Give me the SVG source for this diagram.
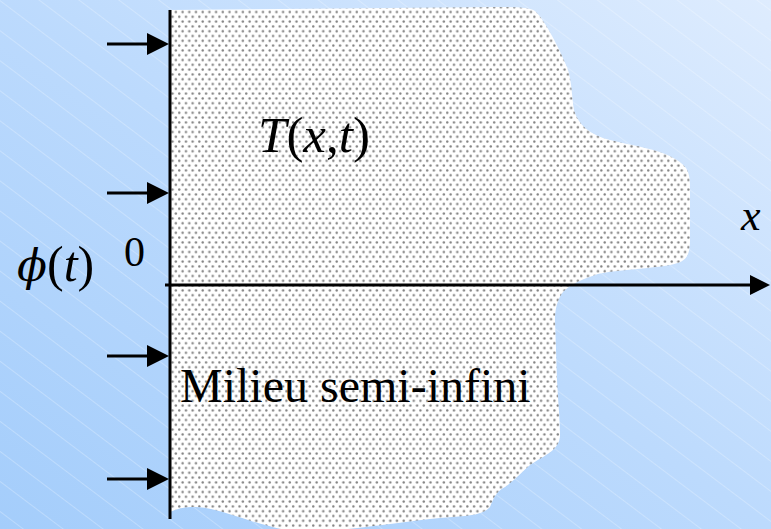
<svg xmlns="http://www.w3.org/2000/svg" xmlns:xlink="http://www.w3.org/1999/xlink" width="771" height="529" viewBox="0 0 771 529">
<style>
.ln{stroke:#000;stroke-width:3;fill:none}
.ah{fill:#000}
.it{font-family:"Liberation Serif","Times New Roman",serif;font-style:italic;fill:#000}
.rm{font-family:"Liberation Serif","Times New Roman",serif;fill:#000}
.ph{font-family:"DejaVu Serif","Liberation Serif",serif;font-style:italic}
</style>
<defs>
<linearGradient id="bg" x1="0" y1="1" x2="1" y2="0">
<stop offset="0" stop-color="#a4cdfb"/>
<stop offset="0.5" stop-color="#bcdafd"/>
<stop offset="1" stop-color="#deecfe"/>
</linearGradient>
<pattern id="hatch" width="60" height="24" patternUnits="userSpaceOnUse" patternTransform="rotate(37)">
<line x1="0" y1="0.5" x2="60" y2="0.5" stroke="#ffffff" stroke-opacity="0.32" stroke-width="0.8"/>
</pattern>
<pattern id="dots" width="6.7" height="9.6" patternUnits="userSpaceOnUse">
<rect width="6.7" height="9.6" fill="#ffffff"/>
<circle cx="1.7" cy="2.4" r="1.2" fill="#808080"/>
<circle cx="5.05" cy="7.2" r="1.2" fill="#808080"/>
</pattern>
<g id="arr">
<line x1="107" y1="0" x2="150" y2="0" class="ln"/>
<polygon points="147,-11 169,0 147,11" class="ah"/>
</g>
</defs>
<rect width="771" height="529" fill="url(#bg)"/>
<rect width="771" height="529" fill="url(#hatch)"/>
<g id="medium">
<path d="M170,10 L500,7 C520,7 530,8 535,11 C545,20 560,50 567,67 C572,80 572,100 574,110 C578,125 590,135 610,140 C625,144 635,145 645,148 C665,152 680,160 686,168 C690,175 690,180 690,190 L690,240 C690,258 685,262 670,265 C640,270 610,270 595,275 C580,280 570,285 563,292 C557,300 555,310 555,320 L557,380 C558,400 560,420 560,435 C560,450 545,455 530,465 C522,472 515,480 505,487 C495,492 493,500 490,507 C485,513 475,515 465,516 L440,518 C400,522 340,532 300,532 C260,528 220,507 195,507 C180,507 175,510 170,512 Z" fill="url(#dots)"/>
<text x="180" y="402" font-size="48" class="rm">Milieu semi-infini</text>
<text x="258" y="152" font-size="51" class="it">T<tspan font-style="normal">(</tspan>x<tspan font-style="normal">,</tspan>t<tspan font-style="normal">)</tspan></text>
</g>
<g id="connectors">
<line x1="170" y1="10" x2="170" y2="519" class="ln"/>
<line x1="165" y1="285" x2="752" y2="285" class="ln"/>
<polygon points="750,275 770,285 750,295" class="ah"/>
<use xlink:href="#arr" y="44"/>
<use xlink:href="#arr" y="193"/>
<use xlink:href="#arr" y="356"/>
<use xlink:href="#arr" y="479"/>
</g>
<g id="labels">
<text x="17" y="281" font-size="50" class="it"><tspan class="ph" font-size="44">ϕ</tspan><tspan font-style="normal">(</tspan>t<tspan font-style="normal">)</tspan></text>
<text x="124" y="266" font-size="42" class="rm">0</text>
<text x="741" y="230" font-size="44" class="it">x</text>
</g>
</svg>
